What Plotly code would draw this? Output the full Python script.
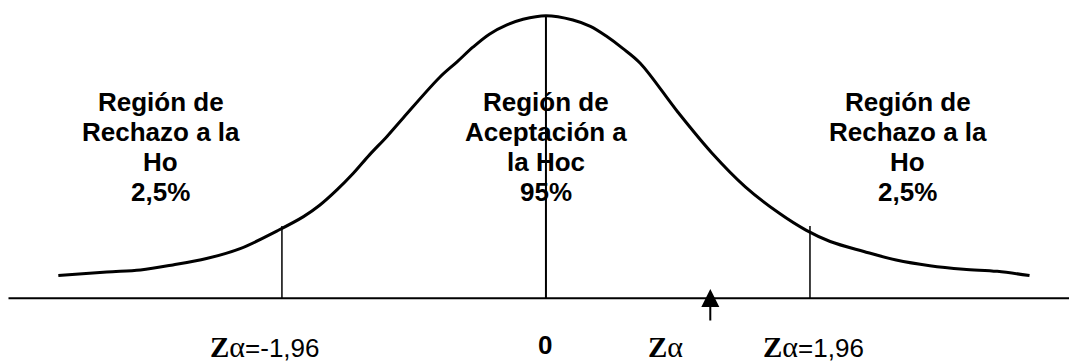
import plotly.graph_objects as go

# ---- data ----
curve_z = [-3.62, -3.26, -3.01, -2.77, -2.52, -2.27, -1.995, -1.80, -1.68, -1.55,
           -1.43, -1.31, -1.18, -1.06, -0.79, -0.66, -0.54, -0.42, -0.29, -0.17,
           0.0, 0.20, 0.33, 0.45, 0.57, 0.70, 0.98, 1.23, 1.48,
           1.73, 1.93, 2.11, 2.36, 2.60, 2.85, 3.10, 3.35, 3.59]
curve_density = [0.032, 0.037, 0.040, 0.047, 0.056, 0.070, 0.095, 0.115, 0.131, 0.153,
                 0.176, 0.202, 0.228, 0.254, 0.311, 0.333, 0.354, 0.372, 0.385, 0.393,
                 0.398, 0.392, 0.383, 0.369, 0.352, 0.331, 0.262, 0.205, 0.157,
                 0.120, 0.096, 0.080, 0.066, 0.054, 0.046, 0.041, 0.038, 0.032]
critical_values = [-1.96, 1.96]
critical_heights = [0.102, 0.102]
peak_density = 0.398
z_alpha = 1.22

region_lines = [
    ["Región de", "Rechazo a la", "Ho", "2,5%"],
    ["Región de", "Aceptación a", "la Hoc", "95%"],
    ["Región de", "Rechazo a la", "Ho", "2,5%"],
]
region_x = [-2.858, 0.0, 2.687]


def z_label(suffix=""):
    s = ("<span style='font-family:Liberation Serif;font-size:29px'><b>Z</b></span>"
         "<span style='font-family:Liberation Serif;font-size:30px'>α</span>")
    return s + suffix


fig = go.Figure()

# curve
fig.add_trace(go.Scatter(x=curve_z, y=curve_density, mode="lines",
                         line=dict(color="black", width=3, shape="spline", smoothing=1.0),
                         hoverinfo="skip", showlegend=False))

# horizontal axis line
fig.add_shape(type="line", x0=-3.99, x1=4.0, y0=0, y1=0,
              line=dict(color="black", width=2))
# centre line
fig.add_shape(type="line", x0=0, x1=0, y0=0, y1=peak_density,
              line=dict(color="black", width=2))
# critical lines
for cv, ch in zip(critical_values, critical_heights):
    fig.add_shape(type="line", x0=cv, x1=cv, y0=0, y1=ch,
                  line=dict(color="black", width=1.5))

# arrow at Z alpha
fig.add_annotation(x=z_alpha, y=0.0131, ax=z_alpha, ay=-0.0334,
                   xref="x", yref="y", axref="x", ayref="y",
                   text="", showarrow=True, arrowhead=2, arrowsize=1.8,
                   arrowwidth=2, arrowcolor="black")

# region labels (one annotation per line, 30 px apart)
line_top = 0.2758
line_step = 0.04225
for lines, xx in zip(region_lines, region_x):
    for i, t in enumerate(lines):
        fig.add_annotation(x=xx, y=line_top - i * line_step, text=f"<b>{t}</b>",
                           showarrow=False, xanchor="center", yanchor="middle",
                           font=dict(family="Liberation Sans", size=26, color="black"))

# bottom labels
label_y = -0.0680
lab_font = dict(family="Liberation Sans", size=26, color="black")
fig.add_annotation(x=critical_values[0], y=label_y, xshift=-17, borderpad=0,
                   text=z_label("=-1,96"), showarrow=False, font=lab_font)
fig.add_annotation(x=0, y=label_y, xshift=-1, yshift=2, borderpad=0,
                   text="<b>0</b>", showarrow=False, font=lab_font)
fig.add_annotation(x=z_alpha, y=label_y, xshift=-45, borderpad=0,
                   text=z_label(), showarrow=False, font=lab_font)
fig.add_annotation(x=critical_values[1], y=label_y, xshift=4, borderpad=0,
                   text=z_label("=1,96"), showarrow=False, font=lab_font)

fig.update_layout(
    width=1069, height=363, autosize=False,
    margin=dict(l=0, r=0, t=0, b=0),
    paper_bgcolor="white", plot_bgcolor="white",
    xaxis=dict(range=[-4.053, 3.883], visible=False, fixedrange=True),
    yaxis=dict(range=[-0.0911, 0.4201], visible=False, fixedrange=True),
    showlegend=False,
)

fig.write_html("out.html", config={"displayModeBar": False},
               post_script="document.body.style.margin='0';document.body.style.overflow='hidden';")
